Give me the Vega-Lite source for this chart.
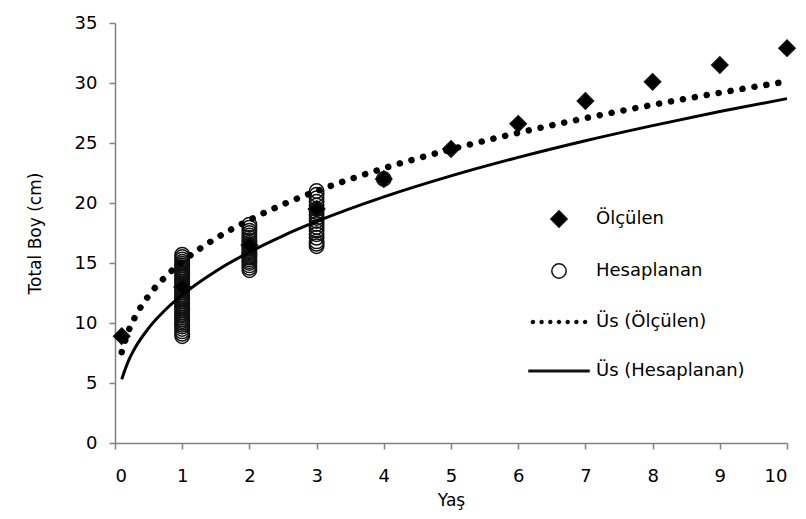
{
  "$schema": "https://vega.github.io/schema/vega-lite/v6.json",
  "width": 672,
  "height": 420,
  "autosize": "none",
  "padding": {"left": 115, "top": 23, "right": 19, "bottom": 76},
  "background": "white",
  "config": {
    "view": {"stroke": null},
    "font": "DejaVu Sans",
    "axis": {
      "domainColor": "#808080",
      "domainWidth": 1.5,
      "tickColor": "#808080",
      "tickWidth": 1.5,
      "tickSize": 6,
      "grid": false,
      "labelFont": "DejaVu Sans",
      "labelFontSize": 18,
      "labelColor": "black",
      "titleFont": "DejaVu Sans",
      "titleFontSize": 17,
      "titleFontWeight": "normal",
      "titleColor": "black"
    },
    "legend": {
      "title": null,
      "orient": "none",
      "legendX": 413,
      "legendY": 165,
      "padding": 0,
      "labelFontSize": 18,
      "labelFont": "DejaVu Sans",
      "labelColor": "black",
      "labelOffset": 6,
      "rowPadding": 9,
      "symbolSize": 3600,
      "symbolStrokeWidth": 1.5,
      "symbolOpacity": 1
    }
  },
  "datasets": {
    "noktalar": [
      {"x": 1, "y": 8.9, "seri": "Hesaplanan"}, {"x": 1, "y": 9.1, "seri": "Hesaplanan"},
      {"x": 1, "y": 9.3, "seri": "Hesaplanan"}, {"x": 1, "y": 9.5, "seri": "Hesaplanan"},
      {"x": 1, "y": 9.7, "seri": "Hesaplanan"}, {"x": 1, "y": 9.85, "seri": "Hesaplanan"},
      {"x": 1, "y": 10.0, "seri": "Hesaplanan"}, {"x": 1, "y": 10.15, "seri": "Hesaplanan"},
      {"x": 1, "y": 10.3, "seri": "Hesaplanan"}, {"x": 1, "y": 10.45, "seri": "Hesaplanan"},
      {"x": 1, "y": 10.6, "seri": "Hesaplanan"}, {"x": 1, "y": 10.75, "seri": "Hesaplanan"},
      {"x": 1, "y": 10.9, "seri": "Hesaplanan"}, {"x": 1, "y": 11.05, "seri": "Hesaplanan"},
      {"x": 1, "y": 11.2, "seri": "Hesaplanan"}, {"x": 1, "y": 11.35, "seri": "Hesaplanan"},
      {"x": 1, "y": 11.5, "seri": "Hesaplanan"}, {"x": 1, "y": 11.65, "seri": "Hesaplanan"},
      {"x": 1, "y": 11.8, "seri": "Hesaplanan"}, {"x": 1, "y": 11.95, "seri": "Hesaplanan"},
      {"x": 1, "y": 12.1, "seri": "Hesaplanan"}, {"x": 1, "y": 12.25, "seri": "Hesaplanan"},
      {"x": 1, "y": 12.4, "seri": "Hesaplanan"}, {"x": 1, "y": 12.55, "seri": "Hesaplanan"},
      {"x": 1, "y": 12.7, "seri": "Hesaplanan"}, {"x": 1, "y": 12.85, "seri": "Hesaplanan"},
      {"x": 1, "y": 13.0, "seri": "Hesaplanan"}, {"x": 1, "y": 13.15, "seri": "Hesaplanan"},
      {"x": 1, "y": 13.3, "seri": "Hesaplanan"}, {"x": 1, "y": 13.45, "seri": "Hesaplanan"},
      {"x": 1, "y": 13.6, "seri": "Hesaplanan"}, {"x": 1, "y": 13.75, "seri": "Hesaplanan"},
      {"x": 1, "y": 13.9, "seri": "Hesaplanan"}, {"x": 1, "y": 14.05, "seri": "Hesaplanan"},
      {"x": 1, "y": 14.2, "seri": "Hesaplanan"}, {"x": 1, "y": 14.35, "seri": "Hesaplanan"},
      {"x": 1, "y": 14.5, "seri": "Hesaplanan"}, {"x": 1, "y": 14.65, "seri": "Hesaplanan"},
      {"x": 1, "y": 14.8, "seri": "Hesaplanan"}, {"x": 1, "y": 14.95, "seri": "Hesaplanan"},
      {"x": 1, "y": 15.1, "seri": "Hesaplanan"}, {"x": 1, "y": 15.3, "seri": "Hesaplanan"},
      {"x": 1, "y": 15.5, "seri": "Hesaplanan"}, {"x": 1, "y": 15.7, "seri": "Hesaplanan"},
      {"x": 2, "y": 14.4, "seri": "Hesaplanan"}, {"x": 2, "y": 14.6, "seri": "Hesaplanan"},
      {"x": 2, "y": 14.8, "seri": "Hesaplanan"}, {"x": 2, "y": 15.0, "seri": "Hesaplanan"},
      {"x": 2, "y": 15.15, "seri": "Hesaplanan"}, {"x": 2, "y": 15.3, "seri": "Hesaplanan"},
      {"x": 2, "y": 15.45, "seri": "Hesaplanan"}, {"x": 2, "y": 15.6, "seri": "Hesaplanan"},
      {"x": 2, "y": 15.75, "seri": "Hesaplanan"}, {"x": 2, "y": 15.9, "seri": "Hesaplanan"},
      {"x": 2, "y": 16.05, "seri": "Hesaplanan"}, {"x": 2, "y": 16.2, "seri": "Hesaplanan"},
      {"x": 2, "y": 16.35, "seri": "Hesaplanan"}, {"x": 2, "y": 16.5, "seri": "Hesaplanan"},
      {"x": 2, "y": 16.7, "seri": "Hesaplanan"}, {"x": 2, "y": 16.9, "seri": "Hesaplanan"},
      {"x": 2, "y": 17.1, "seri": "Hesaplanan"}, {"x": 2, "y": 17.3, "seri": "Hesaplanan"},
      {"x": 2, "y": 17.5, "seri": "Hesaplanan"}, {"x": 2, "y": 17.7, "seri": "Hesaplanan"},
      {"x": 2, "y": 17.95, "seri": "Hesaplanan"}, {"x": 2, "y": 18.2, "seri": "Hesaplanan"},
      {"x": 3, "y": 16.4, "seri": "Hesaplanan"}, {"x": 3, "y": 16.6, "seri": "Hesaplanan"},
      {"x": 3, "y": 16.8, "seri": "Hesaplanan"}, {"x": 3, "y": 17.1, "seri": "Hesaplanan"},
      {"x": 3, "y": 17.4, "seri": "Hesaplanan"}, {"x": 3, "y": 17.7, "seri": "Hesaplanan"},
      {"x": 3, "y": 18.0, "seri": "Hesaplanan"}, {"x": 3, "y": 18.25, "seri": "Hesaplanan"},
      {"x": 3, "y": 18.5, "seri": "Hesaplanan"}, {"x": 3, "y": 18.75, "seri": "Hesaplanan"},
      {"x": 3, "y": 19.0, "seri": "Hesaplanan"}, {"x": 3, "y": 19.25, "seri": "Hesaplanan"},
      {"x": 3, "y": 19.5, "seri": "Hesaplanan"}, {"x": 3, "y": 19.8, "seri": "Hesaplanan"},
      {"x": 3, "y": 20.1, "seri": "Hesaplanan"}, {"x": 3, "y": 20.4, "seri": "Hesaplanan"},
      {"x": 3, "y": 20.7, "seri": "Hesaplanan"}, {"x": 3, "y": 21.0, "seri": "Hesaplanan"},
      {"x": 4, "y": 22.0, "seri": "Hesaplanan"},
      {"x": 0.1, "y": 8.9, "seri": "Ölçülen"},
      {"x": 1, "y": 13.0, "seri": "Ölçülen"},
      {"x": 2, "y": 16.5, "seri": "Ölçülen"},
      {"x": 3, "y": 19.5, "seri": "Ölçülen"},
      {"x": 4, "y": 22.0, "seri": "Ölçülen"},
      {"x": 5, "y": 24.5, "seri": "Ölçülen"},
      {"x": 6, "y": 26.6, "seri": "Ölçülen"},
      {"x": 7, "y": 28.5, "seri": "Ölçülen"},
      {"x": 8, "y": 30.1, "seri": "Ölçülen"},
      {"x": 9, "y": 31.5, "seri": "Ölçülen"},
      {"x": 10, "y": 32.9, "seri": "Ölçülen"}
    ],
    "usOlculen": [
      {"x": 0.1, "y": 7.57}, {"x": 0.2, "y": 9.32}, {"x": 0.3, "y": 10.52},
      {"x": 0.5, "y": 12.27}, {"x": 0.75, "y": 13.85}, {"x": 1, "y": 15.10},
      {"x": 1.5, "y": 17.05}, {"x": 2, "y": 18.59}, {"x": 2.5, "y": 19.88},
      {"x": 3, "y": 20.99}, {"x": 4, "y": 22.89}, {"x": 5, "y": 24.47},
      {"x": 6, "y": 25.85}, {"x": 7, "y": 27.07}, {"x": 8, "y": 28.18},
      {"x": 9, "y": 29.19}, {"x": 10, "y": 30.13}
    ],
    "usHesaplanan": [
      {"x": 0.1, "y": 5.31}, {"x": 0.2, "y": 6.84}, {"x": 0.3, "y": 7.94},
      {"x": 0.5, "y": 9.57}, {"x": 0.75, "y": 11.10}, {"x": 1, "y": 12.34},
      {"x": 1.5, "y": 14.32}, {"x": 2, "y": 15.91}, {"x": 2.5, "y": 17.27},
      {"x": 3, "y": 18.46}, {"x": 4, "y": 20.51}, {"x": 5, "y": 22.26},
      {"x": 6, "y": 23.80}, {"x": 7, "y": 25.19}, {"x": 8, "y": 26.45},
      {"x": 9, "y": 27.62}, {"x": 10, "y": 28.70}
    ]
  },
  "encoding": {
    "x": {
      "field": "x", "type": "quantitative",
      "scale": {"domain": [0, 10], "nice": false},
      "axis": {"values": [0,1,2,3,4,5,6,7,8,9,10], "title": "Yaş", "labelPadding": 18, "titlePadding": 7}
    },
    "y": {
      "field": "y", "type": "quantitative",
      "scale": {"domain": [0, 35], "nice": false},
      "axis": {"values": [0,5,10,15,20,25,30,35], "title": "Total Boy (cm)", "labelPadding": 12, "titlePadding": 30}
    }
  },
  "layer": [
    {
      "data": {"name": "noktalar"},
      "mark": {"type": "point", "filled": true, "opacity": 1, "size": 3600, "stroke": "#111111", "strokeWidth": 1.5},
      "encoding": {
        "shape": {
          "field": "seri", "type": "nominal",
          "scale": {
            "domain": ["Ölçülen", "Hesaplanan", "Üs (Ölçülen)", "Üs (Hesaplanan)"],
            "range": [
              "M0,-0.27L0.27,0L0,0.27L-0.27,0Z",
              "M0.24,0A0.24,0.24,0,1,1,-0.24,0A0.24,0.24,0,1,1,0.24,0Z",
              "M-0.82,0A0.05,0.05,0,1,1,-0.92,0A0.05,0.05,0,1,1,-0.82,0ZM-0.53,0A0.05,0.05,0,1,1,-0.63,0A0.05,0.05,0,1,1,-0.53,0ZM-0.24,0A0.05,0.05,0,1,1,-0.34,0A0.05,0.05,0,1,1,-0.24,0ZM0.05,0A0.05,0.05,0,1,1,-0.05,0A0.05,0.05,0,1,1,0.05,0ZM0.34,0A0.05,0.05,0,1,1,0.24,0A0.05,0.05,0,1,1,0.34,0ZM0.63,0A0.05,0.05,0,1,1,0.53,0A0.05,0.05,0,1,1,0.63,0ZM0.92,0A0.05,0.05,0,1,1,0.82,0A0.05,0.05,0,1,1,0.92,0Z",
              "M-1,-0.025H1V0.025H-1Z"
            ]
          }
        },
        "fill": {
          "field": "seri", "type": "nominal",
          "scale": {"domain": ["Ölçülen", "Hesaplanan", "Üs (Ölçülen)", "Üs (Hesaplanan)"], "range": ["black", "transparent", "black", "black"]}
        }
      }
    },
    {
      "data": {"name": "usHesaplanan"},
      "mark": {"type": "line", "color": "black", "strokeWidth": 3, "interpolate": "monotone"},
      "encoding": {}
    },
    {
      "data": {"name": "usOlculen"},
      "mark": {"type": "line", "color": "black", "strokeWidth": 6.5, "strokeDash": [0.1, 12], "strokeCap": "round", "interpolate": "monotone"},
      "encoding": {}
    }
  ]
}
